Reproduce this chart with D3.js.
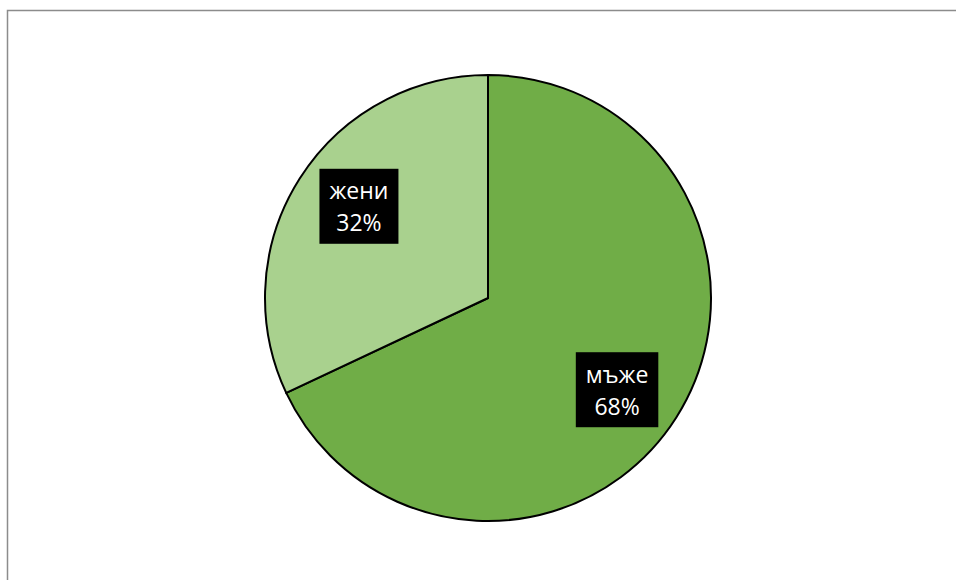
<!DOCTYPE html>
<html>
<head>
<meta charset="utf-8">
<script src="https://cdn.jsdelivr.net/npm/d3@7"></script>
<style>
  body { margin: 0; background: #fff; }
  svg { display: block; }
</style>
</head>
<body>
<svg id="chart" width="956" height="580"></svg>
<script>
// data
var categories = ["мъже", "жени"]
var values = [68, 32]
var colors = ["#70AD47", "#A9D18E"]

var width = 956, height = 580
var cx = 488, cy = 298, radius = 223

var svg = d3.select("#chart")

// chart area border (runs off the right/bottom edge)
svg.append("rect")
    .attr("x", 7.5).attr("y", 10.5)
    .attr("width", 1000).attr("height", 1000)
    .attr("fill", "#fff")
    .attr("stroke", "#8c8c8c")
    .attr("stroke-width", 1.5)

var pie = d3.pie().sort(null).value(function (d) { return d })
var arcs = pie(values)

var arc = d3.arc().innerRadius(0).outerRadius(radius)

// labels sit a bit past mid-angle, like excel does it
var labelR = radius * 0.71
var labelShift = 3 * Math.PI / 180
function labelPos(d) {
    var a = (d.startAngle + d.endAngle) / 2 + labelShift
    return [labelR * Math.sin(a), -labelR * Math.cos(a)]
}

var g = svg.append("g").attr("transform", "translate(" + cx + "," + cy + ")")

g.selectAll("path.slice")
    .data(arcs)
    .enter().append("path")
    .attr("class", "slice")
    .attr("d", arc)
    .attr("fill", function (d, i) { return colors[i] })
    .attr("stroke", "#000")
    .attr("stroke-width", 2)

var labels = g.selectAll("g.label")
    .data(arcs)
    .enter().append("g")
    .attr("class", "label")
    .attr("transform", function (d) { return "translate(" + labelPos(d) + ")" })

labels.each(function (d, i) {
    var lg = d3.select(this)
    var box = lg.append("rect").attr("fill", "#000")
    var txt = lg.append("text")
        .attr("text-anchor", "middle")
        .attr("fill", "#fff")
        .style("font-family", "'Open Sans', 'Noto Sans', sans-serif")
        .style("font-size", "23px")
    txt.append("tspan").attr("x", 0).attr("y", -7).text(categories[i])
    txt.append("tspan").attr("x", 0).attr("y", 25).text(Math.round(d.value) + "%")
    var w = Math.max(79, txt.node().getBBox().width + 20), h = 75
    box.attr("x", -w / 2).attr("y", -h / 2).attr("width", w).attr("height", h)
})
</script>
</body>
</html>
